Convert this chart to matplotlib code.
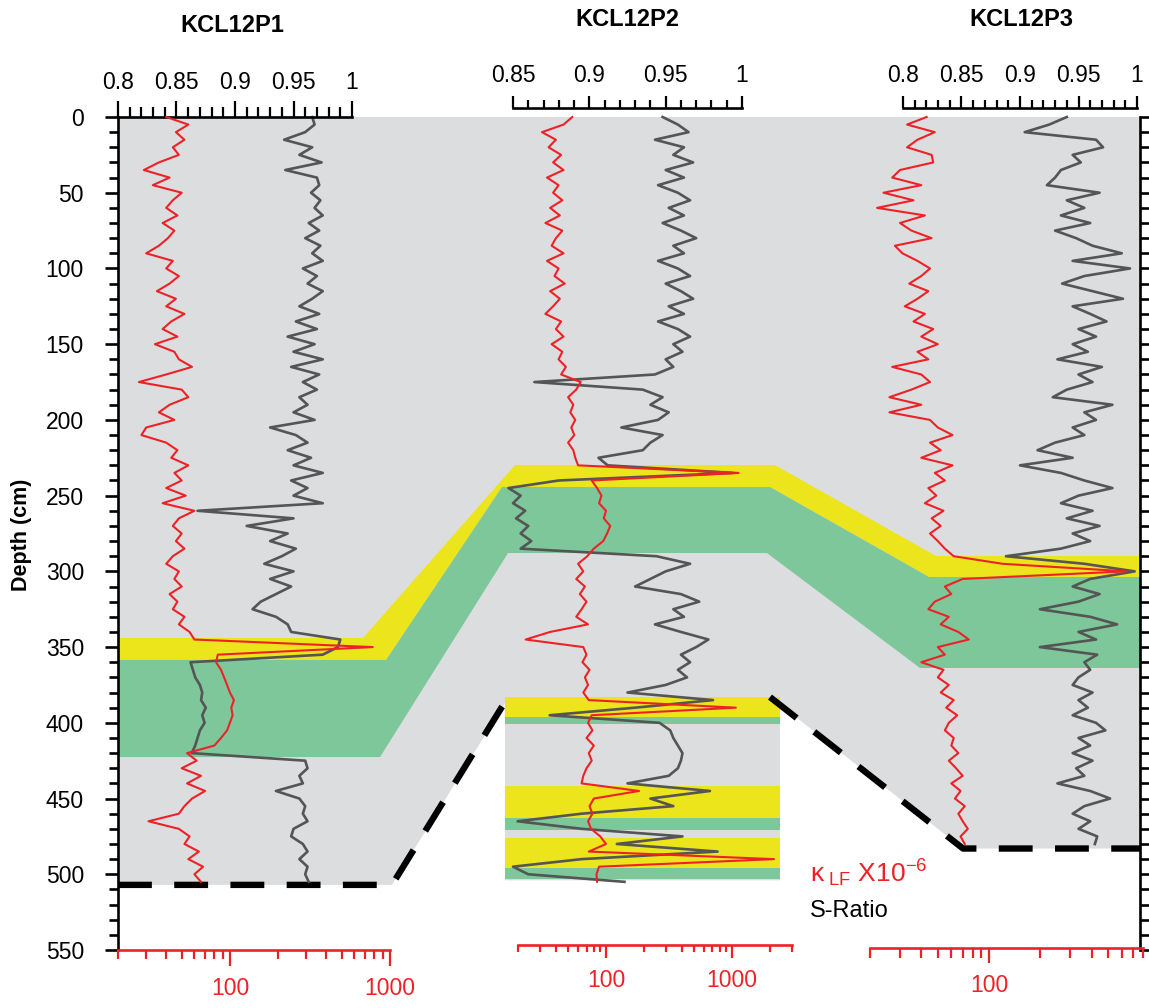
import numpy as np
import matplotlib.pyplot as plt
from matplotlib.ticker import MultipleLocator, FixedLocator, NullFormatter, LogLocator, FuncFormatter

plt.rcParams['font.family'] = ['Liberation Sans', 'DejaVu Sans']
plt.rcParams['mathtext.fontset'] = 'custom'
plt.rcParams['mathtext.rm'] = 'Liberation Sans'
plt.rcParams['mathtext.it'] = 'Liberation Sans'
plt.rcParams['mathtext.bf'] = 'Liberation Sans:bold'

RED = '#ee2226'
LINE_GREY = '#555555'
BG_GREY = '#dcdddf'
YELLOW = '#ece51c'
GREEN = '#7dc79b'

# ---------------- data ----------------
cores = ['KCL12P1', 'KCL12P2', 'KCL12P3']

p1_depth = np.arange(0, 506, 5)
p1_sratio = [
    0.966, 0.968, 0.960, 0.942, 0.966, 0.955, 0.974, 0.943, 0.970, 0.972,
    0.965, 0.973, 0.968, 0.975, 0.963, 0.972, 0.960, 0.973, 0.966, 0.975,
    0.958, 0.970, 0.962, 0.975, 0.966, 0.955, 0.972, 0.952, 0.970, 0.945,
    0.968, 0.950, 0.975, 0.948, 0.972, 0.958, 0.970, 0.955, 0.962, 0.950,
    0.968, 0.930, 0.952, 0.962, 0.945, 0.965, 0.950, 0.975, 0.948, 0.962,
    0.950, 0.975, 0.868, 0.950, 0.910, 0.945, 0.930, 0.952, 0.940, 0.925,
    0.950, 0.930, 0.948, 0.935, 0.922, 0.915, 0.935, 0.945, 0.948, 0.990,
    0.988, 0.975, 0.862, 0.864, 0.866, 0.870, 0.872, 0.871, 0.875, 0.872,
    0.874, 0.870, 0.868, 0.866, 0.863, 0.960, 0.962, 0.955, 0.958, 0.935,
    0.955, 0.960, 0.958, 0.962, 0.950, 0.948, 0.958, 0.962, 0.955, 0.962,
    0.960, 0.963]
p1_kappa = [
    40, 55, 46, 52, 44, 48, 36, 29, 42, 33,
    50, 44, 40, 47, 38, 45, 41, 36, 30, 44,
    40, 48, 42, 35, 46, 40, 52, 43, 38, 47,
    34, 45, 48, 58, 40, 27, 50, 55, 42, 36,
    45, 30, 28, 40, 47, 43, 55, 45, 50, 40,
    53, 38, 60, 48, 44, 50, 46, 52, 44, 40,
    48, 45, 50, 42, 47, 44, 52, 48, 56, 60,
    780, 84, 82, 88, 92, 96, 100, 106, 102, 104,
    100, 96, 88, 80, 54, 62, 50, 66, 54, 70,
    58, 52, 48, 31, 48, 56, 52, 64, 55, 68,
    60, 66]

p2_depth = np.arange(0, 506, 5)
p2_sratio = [
    0.948, 0.958, 0.965, 0.943, 0.962, 0.955, 0.968, 0.950, 0.962, 0.945,
    0.958, 0.966, 0.952, 0.962, 0.948, 0.960, 0.970, 0.955, 0.962, 0.945,
    0.958, 0.966, 0.950, 0.960, 0.968, 0.952, 0.962, 0.945, 0.958, 0.966,
    0.955, 0.961, 0.950, 0.955, 0.943, 0.864, 0.935, 0.948, 0.940, 0.952,
    0.945, 0.921, 0.948, 0.940, 0.935, 0.906, 0.912, 0.994, 0.880, 0.847,
    0.855, 0.850, 0.858, 0.852, 0.860, 0.855, 0.862, 0.855, 0.944, 0.966,
    0.950, 0.940, 0.930, 0.960, 0.972, 0.955, 0.962, 0.943, 0.960, 0.978,
    0.970, 0.960, 0.966, 0.958, 0.964, 0.950, 0.925, 0.981, 0.930, 0.874,
    0.946, 0.953, 0.955, 0.958, 0.961, 0.960, 0.958, 0.952, 0.925, 0.979,
    0.940, 0.955, 0.895, 0.853, 0.895, 0.961, 0.918, 0.984, 0.895, 0.850,
    0.860, 0.923]
p2_kappa = [
    54, 46, 31, 40, 35, 44, 38, 46, 34, 42,
    38, 45, 36, 43, 33, 45, 40, 37, 46, 34,
    42, 39, 47, 36, 43, 38, 33, 44, 40, 46,
    37, 45, 42, 48, 44, 63, 58, 50, 55, 52,
    57, 53, 56, 50, 55, 57, 60, 1130, 77, 85,
    92, 88, 100, 96, 108, 102, 95, 80, 71, 60,
    66, 58, 68, 62, 70, 64, 58, 72, 36, 23,
    66, 70, 65, 74, 68, 72, 66, 73, 1075, 77,
    72, 78, 70, 80, 73, 77, 70, 66, 64, 183,
    80, 74, 78, 72, 76, 90, 100, 73, 2160, 88,
    84, 85]

p3_depth = np.arange(0, 481, 5)
p3_sratio = [
    0.940, 0.925, 0.904, 0.965, 0.971, 0.945, 0.952, 0.935, 0.930, 0.923,
    0.968, 0.940, 0.955, 0.935, 0.960, 0.930, 0.948, 0.962, 0.987, 0.945,
    0.994, 0.955, 0.936, 0.962, 0.988, 0.945, 0.960, 0.974, 0.950, 0.965,
    0.945, 0.958, 0.932, 0.970, 0.950, 0.962, 0.940, 0.928, 0.979, 0.955,
    0.965, 0.945, 0.955, 0.930, 0.915, 0.945, 0.900, 0.935, 0.955, 0.979,
    0.950, 0.935, 0.962, 0.940, 0.968, 0.945, 0.960, 0.935, 0.888, 0.955,
    0.998, 0.960, 0.945, 0.968, 0.950, 0.917, 0.960, 0.983, 0.950, 0.965,
    0.917, 0.966, 0.955, 0.960, 0.950, 0.945, 0.962, 0.950, 0.958, 0.945,
    0.965, 0.973, 0.950, 0.960, 0.945, 0.962, 0.948, 0.955, 0.932, 0.960,
    0.977, 0.955, 0.945, 0.960, 0.950, 0.966, 0.964]
p3_kappa = [
    43, 33, 48, 38, 33, 46, 47, 30, 27, 40,
    24, 36, 22, 42, 30, 35, 46, 28, 31, 38,
    45, 40, 34, 44, 38, 32, 42, 36, 47, 40,
    50, 38, 44, 27, 40, 45, 35, 26, 40, 26,
    45, 50, 61, 45, 52, 40, 61, 48, 55, 44,
    49, 42, 54, 46, 52, 45, 50, 55, 62, 120,
    640, 70, 55, 60, 48, 44, 58, 52, 66, 76,
    50, 55, 40, 54, 50, 58, 52, 62, 56, 65,
    58, 55, 62, 60, 66, 58, 64, 70, 60, 68,
    63, 72, 66, 70, 75, 68, 72]

p1_sticks = [0.8, 0.85, 0.9, 0.95, 1.0]
p2_sticks = [0.85, 0.9, 0.95, 1.0]
p3_sticks = [0.8, 0.85, 0.9, 0.95, 1.0]
kappa_ticks = [100, 1000]
depth_ticks = np.arange(0, 551, 50)

# event layer depths (cm) in each core: yellow top, yellow base, green base
p1_layer = [344, 358.5, 422.6]
p2_layer = [229.8, 244.3, 287.9]
p3_layer = [289.9, 303.7, 363.8]
# thinner layers in the lower part of KCL12P2: (top, bottom, colour)
p2_lower = [(383, 396, 'y'), (396, 401, 'g'), (442, 463, 'y'),
            (463, 471, 'g'), (476, 496, 'y'), (496, 503, 'g')]
core_base = [507, 504, 483]

# ---------------- layout (figure pixels) ----------------
W, H = 1149, 1008
Y_TOP, Y_BOT = 117, 950
X_L, X_R = 118, 1140

fig = plt.figure(figsize=(W / 100, H / 100), dpi=100)


def px_axes(x0, x1):
    return fig.add_axes([x0 / W, (H - Y_BOT) / H, (x1 - x0) / W, (Y_BOT - Y_TOP) / H])


base = px_axes(X_L, X_R)
base.set_xlim(X_L, X_R)
base.set_ylim(550, 0)
base.set_xticks([])
for s in ['top', 'bottom', 'right']:
    base.spines[s].set_visible(False)
base.spines['left'].set_linewidth(1.9)
base.yaxis.set_major_locator(FixedLocator(depth_ticks))
base.yaxis.set_minor_locator(MultipleLocator(10))
base.tick_params(axis='y', which='major', length=9.5, width=1.9, labelsize=16.5, pad=15)
base.tick_params(axis='y', which='minor', length=6.5, width=1.9)

right = base.twinx()
right.set_ylim(550, 0)
for s in ['top', 'bottom', 'left']:
    right.spines[s].set_visible(False)
right.spines['right'].set_linewidth(1.9)
right.yaxis.set_major_locator(MultipleLocator(10))
right.tick_params(axis='y', length=6.5, width=1.9, labelright=False)

# grey sediment background, bounded by the core bases
grey_x = [X_L, X_R, X_R, 963, 780, 780, 505, 505, 392, X_L]
grey_d = [0, 0, core_base[2], core_base[2], 388, core_base[1], core_base[1], 387, core_base[0], core_base[0]]
base.fill(grey_x, grey_d, color=BG_GREY, lw=0, zorder=0)

# correlated yellow / green layer
yel_x = [X_L, 363, 515, 775, 936, X_R, X_R, 929, 770, 502, 386, X_L]
yel_d = [p1_layer[0], p1_layer[0], p2_layer[0], p2_layer[0], p3_layer[0], p3_layer[0],
         p3_layer[1], p3_layer[1], p2_layer[1], p2_layer[1], p1_layer[1], p1_layer[1]]
base.fill(yel_x, yel_d, color=YELLOW, lw=0, zorder=1)
grn_x = [X_L, 386, 502, 770, 929, X_R, X_R, 920, 767, 508, 380, X_L]
grn_d = [p1_layer[1], p1_layer[1], p2_layer[1], p2_layer[1], p3_layer[1], p3_layer[1],
         p3_layer[2], p3_layer[2], p2_layer[2], p2_layer[2], p1_layer[2], p1_layer[2]]
base.fill(grn_x, grn_d, color=GREEN, lw=0, zorder=1)
for top, bot, c in p2_lower:
    base.fill_between([505, 780], top, bot, color=YELLOW if c == 'y' else GREEN, lw=0, zorder=1)

# dashed core-base correlation
dash = dict(color='black', lw=4.6, linestyle=(0, (5.3, 3.5)), zorder=3, clip_on=False)
base.plot([X_L, 392, 508], [core_base[0], core_base[0], 383], **dash)
base.plot([770, 963, X_R], [383, core_base[2], core_base[2]], **dash)


def sratio_axes(x0, x1, lim, ticks, offset, big, small, pad):
    ax = px_axes(x0, x1)
    ax.patch.set_alpha(0)
    ax.set_xlim(*lim)
    ax.set_ylim(550, 0)
    ax.set_yticks([])
    for s in ['left', 'right', 'bottom']:
        ax.spines[s].set_visible(False)
    ax.spines['top'].set_linewidth(1.9)
    ax.spines['top'].set_position(('outward', offset))
    ax.xaxis.tick_top()
    ax.xaxis.set_major_locator(FixedLocator(ticks))
    ax.xaxis.set_minor_locator(MultipleLocator(0.01))
    ax.xaxis.set_major_formatter(FuncFormatter(lambda v, p: f'{v:g}'))
    ax.tick_params(axis='x', which='major', length=big, width=1.6, labelsize=16.5, pad=pad)
    ax.tick_params(axis='x', which='minor', length=small, width=1.6)
    return ax


def kappa_axes(x0, x1, lim, offset, big, small):
    ax = px_axes(x0, x1)
    ax.patch.set_alpha(0)
    ax.set_xscale('log')
    ax.set_xlim(*lim)
    ax.set_ylim(550, 0)
    ax.set_yticks([])
    for s in ['left', 'right', 'top']:
        ax.spines[s].set_visible(False)
    ax.spines['bottom'].set_color(RED)
    ax.spines['bottom'].set_linewidth(1.9)
    ax.spines['bottom'].set_position(('outward', offset))
    ax.xaxis.set_major_locator(FixedLocator(kappa_ticks))
    ax.xaxis.set_major_formatter(FuncFormatter(lambda v, p: f'{v:g}'))
    ax.xaxis.set_minor_locator(LogLocator(subs=np.arange(2, 10)))
    ax.xaxis.set_minor_formatter(NullFormatter())
    ax.tick_params(axis='x', which='both', colors=RED, width=1.6, labelsize=16.5, pad=8)
    ax.tick_params(axis='x', which='major', length=big)
    ax.tick_params(axis='x', which='minor', length=small)
    return ax


panels = [
    (p1_depth, p1_sratio, p1_kappa, (118, 352, (0.8, 1.0), p1_sticks, 0, 11.5, 7, 5),
     (118, 390, (20, 1000), 0, 11.5, 6.5)),
    (p2_depth, p2_sratio, p2_kappa, (513, 742, (0.85, 1.0), p2_sticks, 6.5, 8.5, 5.8, 6.5),
     (518, 792, (20, 3000), -3.6, 9.4, 5)),
    (p3_depth, p3_sratio, p3_kappa, (903, 1137, (0.8, 1.0), p3_sticks, 6.5, 8.5, 5.8, 6.5),
     (870, 1143, (20, 800), -1.4, 11, 7)),
]
for depth, sr, ka, sopt, kopt in panels:
    sax = sratio_axes(*sopt)
    sax.plot(sr, depth, color=LINE_GREY, lw=1.9, clip_on=False)
    kax = kappa_axes(*kopt)
    kax.plot(ka, depth, color=RED, lw=1.5, clip_on=False)

# core names
for name, (x, y) in zip(cores, [(232, 25), (627, 20), (1021, 20)]):
    fig.text(x / W, 1 - y / H, name, ha='center', va='center', fontsize=17, fontweight='bold')

fig.text(22 / W, 1 - 535 / H, 'Depth (cm)', rotation=90, ha='center', va='center',
         fontsize=15.5, fontweight='bold')

fig.text(810 / W, 1 - 882 / H, r'$\kappa_{\ LF}$ X10$^{-6}$', color=RED, fontsize=19,
         ha='left', va='baseline')
fig.text(810 / W, 1 - 917 / H, 'S-Ratio', color='black', fontsize=17, ha='left', va='baseline')

fig.savefig('out.png', dpi=100)
